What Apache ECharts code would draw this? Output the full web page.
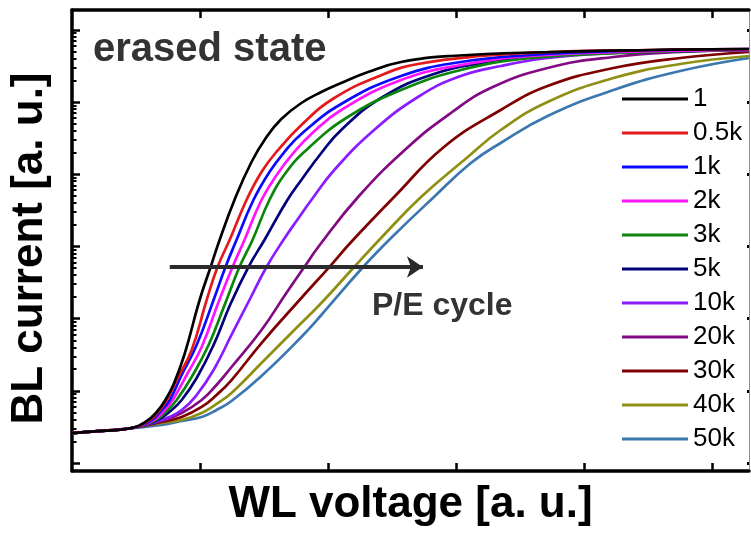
<!DOCTYPE html>
<html>
<head>
<meta charset="utf-8">
<script src="https://cdn.jsdelivr.net/npm/echarts@6/dist/echarts.min.js"></script>
<style>
html,body{margin:0;padding:0;background:#fff;}
#chart{width:751px;height:534px;}
</style>
</head>
<body>
<div id="chart"></div>
<script>
// ---- data (WL voltage [a.u.], BL current [a.u.]) ----
const seriesNames = ['1','0.5k','1k','2k','3k','5k','10k','20k','30k','40k','50k'];
const seriesColors = ['#000000','#e3191c','#0a0aff','#ff14ff','#0b860b','#00007a','#8a1cff','#820a82','#7f0000','#8f8f14','#3c78b0'];

const c1 = [[0,2.60],[0.233,2.78],[0.467,3.05],[0.584,3.82],[0.661,5.09],[0.724,7.22],[0.794,12.42],[0.879,32.33],[0.996,181],[1.082,518],[1.152,1226],[1.268,4392],[1.401,14757],[1.518,32750],[1.634,58150],[1.790,96860],[1.946,137600],[2.101,183300],[2.311,260300],[2.568,358100],[2.957,433600],[3.735,492600],[4.514,525100],[5.284,542100]];
const c05k = [[0,2.60],[0.233,2.78],[0.467,3.05],[0.607,3.94],[0.685,5.42],[0.739,7.46],[0.817,14.11],[0.934,36.7],[1.051,181],[1.136,518],[1.230,1226],[1.362,4392],[1.479,10727],[1.595,20306],[1.790,48020],[2.047,113600],[2.436,244200],[2.700,336000],[3.191,433600],[3.735,492600],[4.514,525100],[5.284,542100]];
const c1k = [[0,2.60],[0.233,2.78],[0.467,3.05],[0.623,3.94],[0.700,5.42],[0.763,7.46],[0.856,16.55],[0.973,43.08],[1.105,181],[1.198,518],[1.284,1226],[1.416,4392],[1.541,10727],[1.658,20306],[1.790,36050],[2.101,93830],[2.568,229200],[3.035,358100],[3.580,447700],[4.280,508600],[5.284,542100]];
const c2k = [[0,2.60],[0.233,2.78],[0.467,3.05],[0.638,3.94],[0.724,5.42],[0.786,7.46],[0.895,16.55],[1.012,40.44],[1.144,169.8],[1.253,518],[1.346,1226],[1.479,4392],[1.603,10064],[1.735,20306],[1.868,36050],[2.101,77480],[2.568,201700],[3.035,325500],[3.580,433600],[4.280,492600],[5.284,525100]];
const c3k = [[0,2.60],[0.233,2.78],[0.467,3.05],[0.654,3.94],[0.747,5.42],[0.817,7.46],[0.934,15.53],[1.066,43.08],[1.191,154.3],[1.307,518],[1.409,1226],[1.541,4392],[1.673,10727],[1.829,21640],[2.140,60030],[2.568,146700],[3.035,277500],[3.580,406800],[4.280,477200],[5.284,525100]];
const c5k = [[0,2.60],[0.233,2.78],[0.467,3.05],[0.669,3.94],[0.778,5.42],[0.856,7.46],[0.973,15.04],[1.105,43.08],[1.237,159.3],[1.377,518],[1.502,1226],[1.681,4392],[1.790,8310],[1.946,19667],[2.101,40950],[2.412,113600],[2.825,244200],[3.268,358100],[3.813,447700],[4.514,492600],[5.284,525100]];
const c10k = [[0,2.60],[0.233,2.78],[0.467,3.05],[0.700,3.94],[0.856,5.42],[0.973,8.75],[1.105,19.42],[1.245,59.3],[1.385,181],[1.518,518.4],[1.650,1226],[1.774,2554],[1.868,4392],[2.047,11435],[2.358,40950],[2.700,117300],[3.012,222000],[3.346,315200],[3.712,406800],[4.226,477200],[4.747,508600],[5.284,525100]];
const c20k = [[0,2.60],[0.233,2.78],[0.467,3.05],[0.700,3.82],[0.856,4.93],[1.012,7.46],[1.128,12.03],[1.245,21.36],[1.479,69.5],[1.673,226.2],[1.813,518],[1.922,981],[2.233,4833],[2.623,23812],[2.957,70410],[3.268,156300],[3.712,295800],[4.226,420100],[4.747,492600],[5.284,525100]];
const c30k = [[0,2.60],[0.233,2.78],[0.467,3.05],[0.700,3.70],[0.856,4.34],[1.012,5.97],[1.128,8.75],[1.245,14.11],[1.479,45.9],[1.790,192.9],[2.008,518],[2.179,1150],[2.514,4833],[2.903,23812],[3.346,77480],[3.712,166600],[4.226,295800],[4.747,406800],[5.284,492600]];
const c40k = [[0,2.60],[0.233,2.78],[0.467,3.05],[0.700,3.58],[0.856,3.94],[1.012,4.93],[1.128,6.57],[1.245,9.32],[1.479,24.27],[1.712,63.2],[1.946,164.5],[2.202,518],[2.412,1307],[2.724,4833],[3.089,17305],[3.346,40950],[3.712,100000],[4.226,215000],[4.747,336000],[5.284,433600]];
const c50k = [[0,2.60],[0.233,2.78],[0.467,3.05],[0.700,3.36],[0.856,3.82],[1.012,4.34],[1.128,5.42],[1.245,7.22],[1.479,16.03],[1.790,55.6],[1.946,112.2],[2.272,518],[2.506,1393],[2.825,4833],[3.113,14293],[3.346,27050],[3.712,63990],[4.226,146700],[4.747,268800],[5.284,406800]];
const curves = [c1, c05k, c1k, c2k, c3k, c5k, c10k, c20k, c30k, c40k, c50k];

// axis tick values
const xTicks = [1, 2, 3, 4, 5];
const yMajorTicks = [1, 10, 100, 1e3, 1e4, 1e5, 1e6];
const yMinorTicks = [2,3,4,5,6,7,8,9, 20,30,40,50,60,70,80,90, 200,300,400,500,600,700,800,900,
  2e3,3e3,4e3,5e3,6e3,7e3,8e3,9e3, 2e4,3e4,4e4,5e4,6e4,7e4,8e4,9e4, 2e5,3e5,4e5,5e5,6e5,7e5,8e5,9e5];
const xRange = [0, 5.284];
const yRange = [0.775, 1.88e6];

// P/E cycle arrow (start, end) in data coordinates
const arrowStart = [0.763, 518.4];
const arrowEnd = [2.739, 518.4];

const FONT = '"Liberation Sans", Arial, sans-serif';

const chart = echarts.init(document.getElementById('chart'), null, {renderer: 'canvas'});

const series = curves.map((d, i) => ({
  name: seriesNames[i],
  type: 'line',
  data: d,
  xAxisIndex: 0,
  yAxisIndex: 0,
  smooth: 0.45,
  symbol: 'none',
  showSymbol: false,
  color: seriesColors[i],
  lineStyle: {width: 2.7, color: seriesColors[i]},
  z: 3 + (curves.length - i) * 0.01
}));

series.push({
  name: 'arrow',
  type: 'line',
  data: [],
  xAxisIndex: 0,
  yAxisIndex: 0,
  symbol: 'none',
  markLine: {
    silent: true,
    symbol: ['none', 'arrow'],
    symbolSize: 16,
    label: {show: false},
    lineStyle: {color: '#2b2b2b', width: 4, type: 'solid', opacity: 1},
    itemStyle: {color: '#2b2b2b'},
    data: [[{coord: arrowStart}, {coord: arrowEnd}]]
  },
  z: 10
});

const tickAxisCommon = {
  axisLabel: {show: false},
  splitLine: {show: false}
};

const option = {
  animation: false,
  backgroundColor: '#ffffff',
  textStyle: {fontFamily: FONT},
  grid: {left: 70, right: 2, top: 10, bottom: 63, containLabel: false},
  legend: {
    data: seriesNames,
    orient: 'vertical',
    left: 622,
    top: 86,
    padding: 0,
    icon: 'rect',
    itemWidth: 66,
    itemHeight: 3,
    itemGap: 8,
    selectedMode: false,
    textStyle: {fontFamily: FONT, fontSize: 26, lineHeight: 25, color: '#000'}
  },
  xAxis: [
    Object.assign({}, tickAxisCommon, {
      type: 'value', position: 'bottom', min: xRange[0], max: xRange[1],
      name: 'WL voltage [a. u.]', nameLocation: 'middle', nameGap: 12,
      nameTextStyle: {fontFamily: FONT, fontSize: 44, fontWeight: 'bold', color: '#000'},
      axisLine: {show: true, onZero: false, lineStyle: {color: '#000', width: 3.5}},
      axisTick: {show: true, inside: true, length: 8, customValues: xTicks, lineStyle: {color: '#000', width: 2.5}}
    }),
    Object.assign({}, tickAxisCommon, {
      type: 'value', position: 'top', min: xRange[0], max: xRange[1],
      axisLine: {show: true, onZero: false, lineStyle: {color: '#000', width: 3.5}},
      axisTick: {show: true, inside: true, length: 8, customValues: xTicks, lineStyle: {color: '#000', width: 2.5}}
    })
  ],
  yAxis: [
    Object.assign({}, tickAxisCommon, {
      type: 'log', logBase: 10, position: 'left', min: yRange[0], max: yRange[1],
      name: 'BL current [a. u.]', nameLocation: 'middle', nameGap: 20,
      nameTextStyle: {fontFamily: FONT, fontSize: 44, fontWeight: 'bold', color: '#000', padding: [0, 16, 0, 0]},
      axisLine: {show: true, onZero: false, lineStyle: {color: '#000', width: 3.5}},
      axisTick: {show: true, inside: true, length: 8, customValues: yMajorTicks, lineStyle: {color: '#000', width: 2.5}}
    }),
    Object.assign({}, tickAxisCommon, {
      type: 'log', logBase: 10, position: 'left', min: yRange[0], max: yRange[1],
      axisLine: {show: false},
      axisTick: {show: true, inside: true, length: 4.5, customValues: yMinorTicks, lineStyle: {color: '#000', width: 2}}
    }),
    Object.assign({}, tickAxisCommon, {
      type: 'log', logBase: 10, position: 'right', min: yRange[0], max: yRange[1],
      axisLine: {show: true, onZero: false, lineStyle: {color: '#777', width: 1, type: 'dotted'}},
      axisTick: {show: true, inside: true, length: 2, customValues: yMajorTicks, lineStyle: {color: '#000', width: 3}}
    })
  ],
  graphic: [
    {type: 'text', left: 93, top: 30, silent: true,
     style: {text: 'erased state', font: 'bold 40px ' + FONT, fill: '#333'}},
    {type: 'text', left: 372, top: 290, silent: true,
     style: {text: 'P/E cycle', font: 'bold 32px ' + FONT, fill: '#333'}}
  ],
  series: series
};

chart.setOption(option);
</script>
</body>
</html>
